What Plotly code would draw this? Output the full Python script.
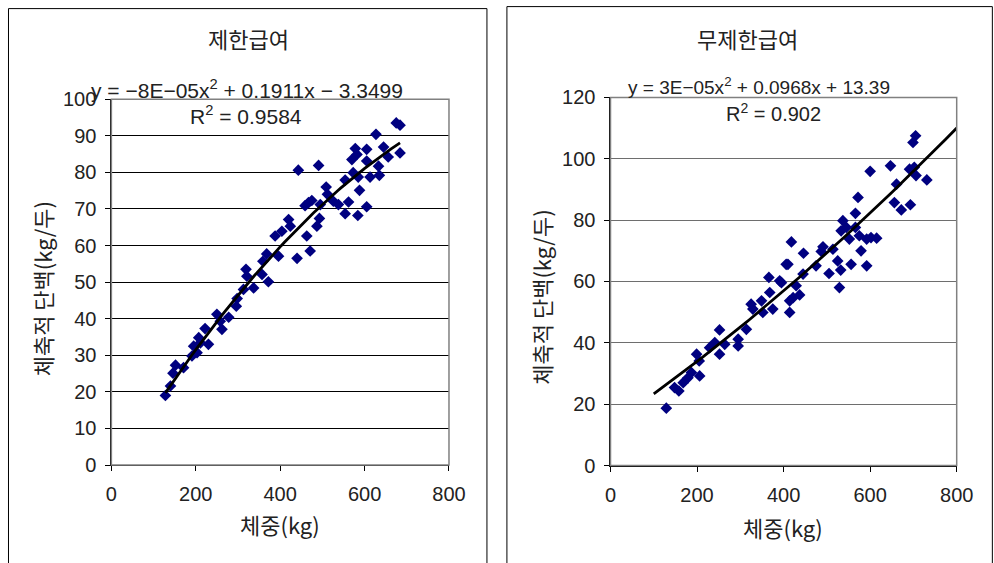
import numpy as np
import plotly.graph_objects as go

# ---------------- data ----------------
left_title = "제한급여"
right_title = "무제한급여"

left_weight = [128, 140, 146, 152, 171, 191, 203, 195, 207, 222, 230, 211, 250, 262, 278, 258,
               296, 298, 313, 319, 321, 337, 357, 372, 359, 368, 396, 388, 404, 420, 424, 440,
               463, 471, 487, 493, 467, 459, 475, 495, 509, 512, 526, 538, 554, 562, 554, 573,
               585, 588, 584, 605, 570, 578, 582, 605, 605, 613, 633, 635, 627, 645, 656, 684,
               675, 684, 443, 491]
left_protein = [19.0, 21.6, 25.1, 27.3, 26.6, 29.8, 30.7, 32.5, 34.8, 37.3, 33.0, 33.4, 41.2, 37.1,
                40.4, 39.3, 43.4, 45.5, 48.0, 53.5, 51.6, 48.4, 52.1, 50.1, 55.7, 57.7, 57.1, 62.6,
                63.9, 67.1, 65.3, 56.5, 62.6, 58.5, 65.3, 67.4, 71.7, 70.9, 72.3, 71.2, 76.0, 74.0,
                72.1, 71.2, 68.7, 71.9, 77.9, 79.9, 78.7, 75.1, 68.2, 70.6, 83.5, 86.5, 84.9, 86.3,
                83.1, 78.7, 81.7, 79.2, 90.4, 86.9, 84.2, 85.3, 93.5, 92.9, 80.6, 81.9]

right_weight = [129, 148, 158, 168, 179, 187, 206, 199, 205, 229, 241, 252, 252, 264, 295, 295,
                314, 325, 329, 349, 352, 368, 366, 375, 395, 406, 414, 422, 429, 529, 505, 525,
                532, 556, 592, 475, 446, 410, 418, 491, 487, 514, 533, 537, 545, 566, 566, 575,
                552, 579, 592, 615, 602, 572, 600, 647, 661, 656, 672, 693, 691, 702, 706, 731,
                699, 705, 437, 414, 445, 391]
right_protein = [18.7, 25.4, 24.3, 27.0, 28.6, 30.3, 29.2, 36.3, 34.1, 38.4, 40.1, 44.2, 36.3, 39.5,
                 41.2, 39.0, 44.4, 52.6, 51.0, 53.7, 49.9, 56.4, 61.3, 51.0, 59.6, 65.6, 49.9, 54.7,
                 58.6, 58.0, 62.6, 66.7, 63.7, 65.6, 65.1, 65.1, 69.2, 65.6, 72.9, 71.3, 69.8, 70.5,
                 76.5, 79.8, 77.6, 77.6, 82.2, 74.9, 73.8, 70.0, 73.8, 74.1, 74.3, 87.4, 95.9, 97.7,
                 91.7, 85.7, 83.3, 85.0, 96.6, 97.2, 94.5, 93.1, 105.3, 107.5, 55.6, 53.7, 62.4, 60.2]

# quadratic trendline coefficients (a, b, c) and drawn x-extent
left_coef = [-8.4e-05, 0.1911, -3.3499]
right_coef = [3e-05, 0.0968, 13.39]
right_fit_extent = [100, 800]

left_eq = "y = −8E−05x<sup>2</sup> + 0.1911x − 3.3499"
left_r2 = "R<sup>2</sup> = 0.9584"
right_eq = "y = 3E−05x<sup>2</sup> + 0.0968x + 13.39"
right_r2 = "R<sup>2</sup> = 0.902"

x_ticks = [0, 200, 400, 600, 800]
left_y_ticks = [0, 10, 20, 30, 40, 50, 60, 70, 80, 90, 100]
right_y_ticks = [0, 20, 40, 60, 80, 100, 120]
x_label = "체중(kg)"
y_label = "체축적 단백(kg/두)"

# ---------------- figure ----------------
W, H = 994, 563
FONT = "Liberation Sans, Arial, Noto Sans CJK KR, sans-serif"
KFONT = "Noto Sans CJK KR, Liberation Sans, sans-serif"
TXT = "#222222"
NAVY = "#000080"

# compensation for how the page is photographed (measured offset / scale)
OX, SX = 5.5, 0.978
OY, SY = 10.4, 0.960


def px(x):
    return ((x - OX) / SX) / W


def py(y):
    return 1 - ((y - OY) / SY) / H


fig = go.Figure()

fig.add_trace(go.Scatter(x=left_weight, y=left_protein, mode="markers",
                         marker=dict(symbol="diamond", size=9, color=NAVY),
                         xaxis="x", yaxis="y", showlegend=False, hoverinfo="skip"))
lx = np.linspace(min(left_weight), max(left_weight), 80)
fig.add_trace(go.Scatter(x=lx, y=np.polyval(left_coef, lx), mode="lines",
                         line=dict(color="black", width=2.8),
                         xaxis="x", yaxis="y", showlegend=False, hoverinfo="skip"))

fig.add_trace(go.Scatter(x=right_weight, y=right_protein, mode="markers",
                         marker=dict(symbol="diamond", size=9, color=NAVY),
                         xaxis="x2", yaxis="y2", showlegend=False, hoverinfo="skip"))
rx = np.linspace(right_fit_extent[0], right_fit_extent[1], 80)
fig.add_trace(go.Scatter(x=rx, y=np.polyval(right_coef, rx), mode="lines",
                         line=dict(color="black", width=2.8),
                         xaxis="x2", yaxis="y2", showlegend=False, hoverinfo="skip"))

axis_common = dict(showline=True, linecolor="black", linewidth=1, ticks="outside",
                   ticklen=5, tickcolor="black", zeroline=False, mirror=False,
                   tickfont=dict(family=FONT, size=20, color=TXT))

fig.update_layout(
    width=W, height=H,
    margin=dict(l=0, r=0, t=0, b=0),
    paper_bgcolor="white", plot_bgcolor="white",
    xaxis=dict(domain=[px(111), px(449)], range=[0, 800], tickvals=x_ticks,
               showgrid=False, anchor="y", ticklabelstandoff=6, **axis_common),
    yaxis=dict(domain=[py(464), py(98.5)], range=[0, 100], tickvals=left_y_ticks,
               showgrid=True, gridcolor="black", gridwidth=1, anchor="x",
               ticklabelstandoff=5, **axis_common),
    xaxis2=dict(domain=[px(610.7), min(1.0, px(957.3))], range=[0, 800], tickvals=x_ticks,
                showgrid=False, anchor="y2", ticklabelstandoff=6, **axis_common),
    yaxis2=dict(domain=[py(464.5), py(96.7)], range=[0, 120], tickvals=right_y_ticks,
                showgrid=True, gridcolor="#6e6e6e", gridwidth=1, anchor="x2",
                ticklabelstandoff=5, **axis_common),
)

shapes = [
    # outer panel frames
    dict(type="rect", xref="paper", yref="paper", x0=px(8), x1=px(487), y0=-0.1, y1=py(8),
         line=dict(color="black", width=1)),
    dict(type="rect", xref="paper", yref="paper", x0=px(507), x1=px(993), y0=-0.1, y1=py(6),
         line=dict(color="black", width=1)),
    # plot-area borders (gray)
    dict(type="rect", xref="x domain", yref="y domain", x0=0, x1=1, y0=0, y1=1,
         line=dict(color="#808080", width=1.5)),
    dict(type="rect", xref="x2 domain", yref="y2 domain", x0=0, x1=1, y0=0, y1=1,
         line=dict(color="#808080", width=1.5)),
]
fig.update_layout(shapes=shapes)

ann = []


def text(x, y, s, size, family=FONT, angle=0):
    ann.append(dict(x=px(x), y=py(y), xref="paper", yref="paper", text=s, showarrow=False,
                    xanchor="center", yanchor="middle", textangle=angle,
                    font=dict(family=family, size=size, color=TXT)))


text(248, 37, left_title, 22, KFONT)
text(748, 37, right_title, 22, KFONT)
text(247, 88, left_eq, 21)
text(246, 114, left_r2, 21)
text(759, 85, right_eq, 19)
text(774, 112, right_r2, 20)
text(280, 523, x_label, 22, KFONT)
text(783, 526, x_label, 22, KFONT)
text(41, 288, y_label, 22, KFONT, angle=-90)
text(541, 296, y_label, 22, KFONT, angle=-90)
fig.update_layout(annotations=ann)

post = """
var de=document.documentElement, b=document.body;
de.style.margin='0'; de.style.padding='0'; de.style.overflow='hidden';
b.style.margin='0'; b.style.padding='0'; b.style.overflow='hidden';
"""
fig.write_html("out.html", config={"displayModeBar": False}, post_script=post)
